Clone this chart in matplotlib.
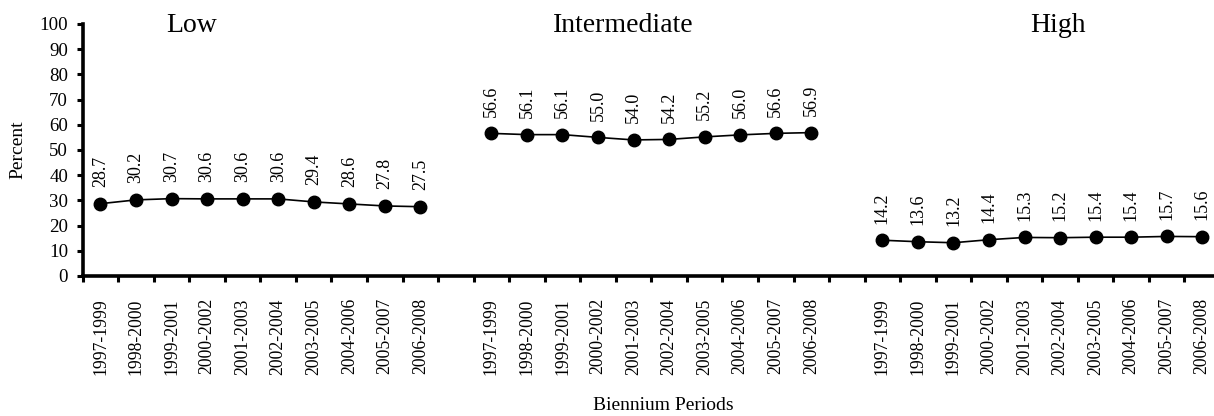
import matplotlib
matplotlib.use("Agg")
import matplotlib.pyplot as plt
import numpy as np

periods = ["1997-1999", "1998-2000", "1999-2001", "2000-2002", "2001-2003",
           "2002-2004", "2003-2005", "2004-2006", "2005-2007", "2006-2008"]
groups = ["Low", "Intermediate", "High"]
low = [28.7, 30.2, 30.7, 30.6, 30.6, 30.6, 29.4, 28.6, 27.8, 27.5]
intermediate = [56.6, 56.1, 56.1, 55.0, 54.0, 54.2, 55.2, 56.0, 56.6, 56.9]
high = [14.2, 13.6, 13.2, 14.4, 15.3, 15.2, 15.4, 15.4, 15.7, 15.6]
yticks = list(range(0, 101, 10))

plt.rcParams['font.family'] = ['Liberation Serif', 'DejaVu Serif']

W, H = 1214, 416
fig = plt.figure(figsize=(W / 100, H / 100), dpi=100)
left_px, right_px, top_px, bot_px = 82.7, 1220.0, 24.0, 276.0
ax = fig.add_axes([left_px / W, 1 - bot_px / H, (right_px - left_px) / W, (bot_px - top_px) / H])

series = [low, intermediate, high]
n = len(periods)
gap = 1
all_pos = []
for gi, vals in enumerate(series):
    pos = np.arange(n) + gi * (n + gap)
    all_pos.extend(pos)
    ax.plot(pos, vals, color='black', lw=1.2, marker='o', markersize=9,
            markerfacecolor='black', markeredgecolor='black', clip_on=False, zorder=3)
    for x, v in zip(pos, vals):
        ax.annotate(f"{v:.1f}", (x, v), xytext=(0, 12), textcoords='offset points',
                    rotation=90, ha='center', va='bottom', fontsize=13)

total = 3 * n + 2 * gap
ax.set_xlim(-0.5, total - 0.5)
ax.set_ylim(0, 100)
ax.set_yticks(yticks)
ax.set_yticklabels([str(t) for t in yticks])

# major ticks at category boundaries, labels at category centres
ax.set_xticks(np.arange(-0.5, total, 1.0))
ax.set_xticklabels([])
ax.set_xticks(all_pos, minor=True)
ax.set_xticklabels(periods * 3, minor=True, rotation=90, fontsize=12.7, va='top')
ax.tick_params(axis='x', which='minor', length=0, pad=16)
ax.tick_params(axis='x', which='major', length=4.5, width=2.2, direction='out')
ax.tick_params(axis='y', which='major', length=4.5, width=2.2, direction='out', pad=6, labelsize=13.6)

for s in ['top', 'right']:
    ax.spines[s].set_visible(False)
for s in ['left', 'bottom']:
    ax.spines[s].set_linewidth(2.6)

# group titles
title_x = [191.4, 623.0, 1058.0]
for name, xp in zip(groups, title_x):
    fig.text(xp / W, 1 - 32.3 / H, name, ha='center', va='baseline', fontsize=20)

fig.text(17.5 / W, 1 - 150 / H, "Percent", rotation=90, ha='center', va='center', fontsize=14)
fig.text(663 / W, 1 - 406 / H, "Biennium Periods", ha='center', va='center', fontsize=14)

fig.savefig("out.png", dpi=100)
